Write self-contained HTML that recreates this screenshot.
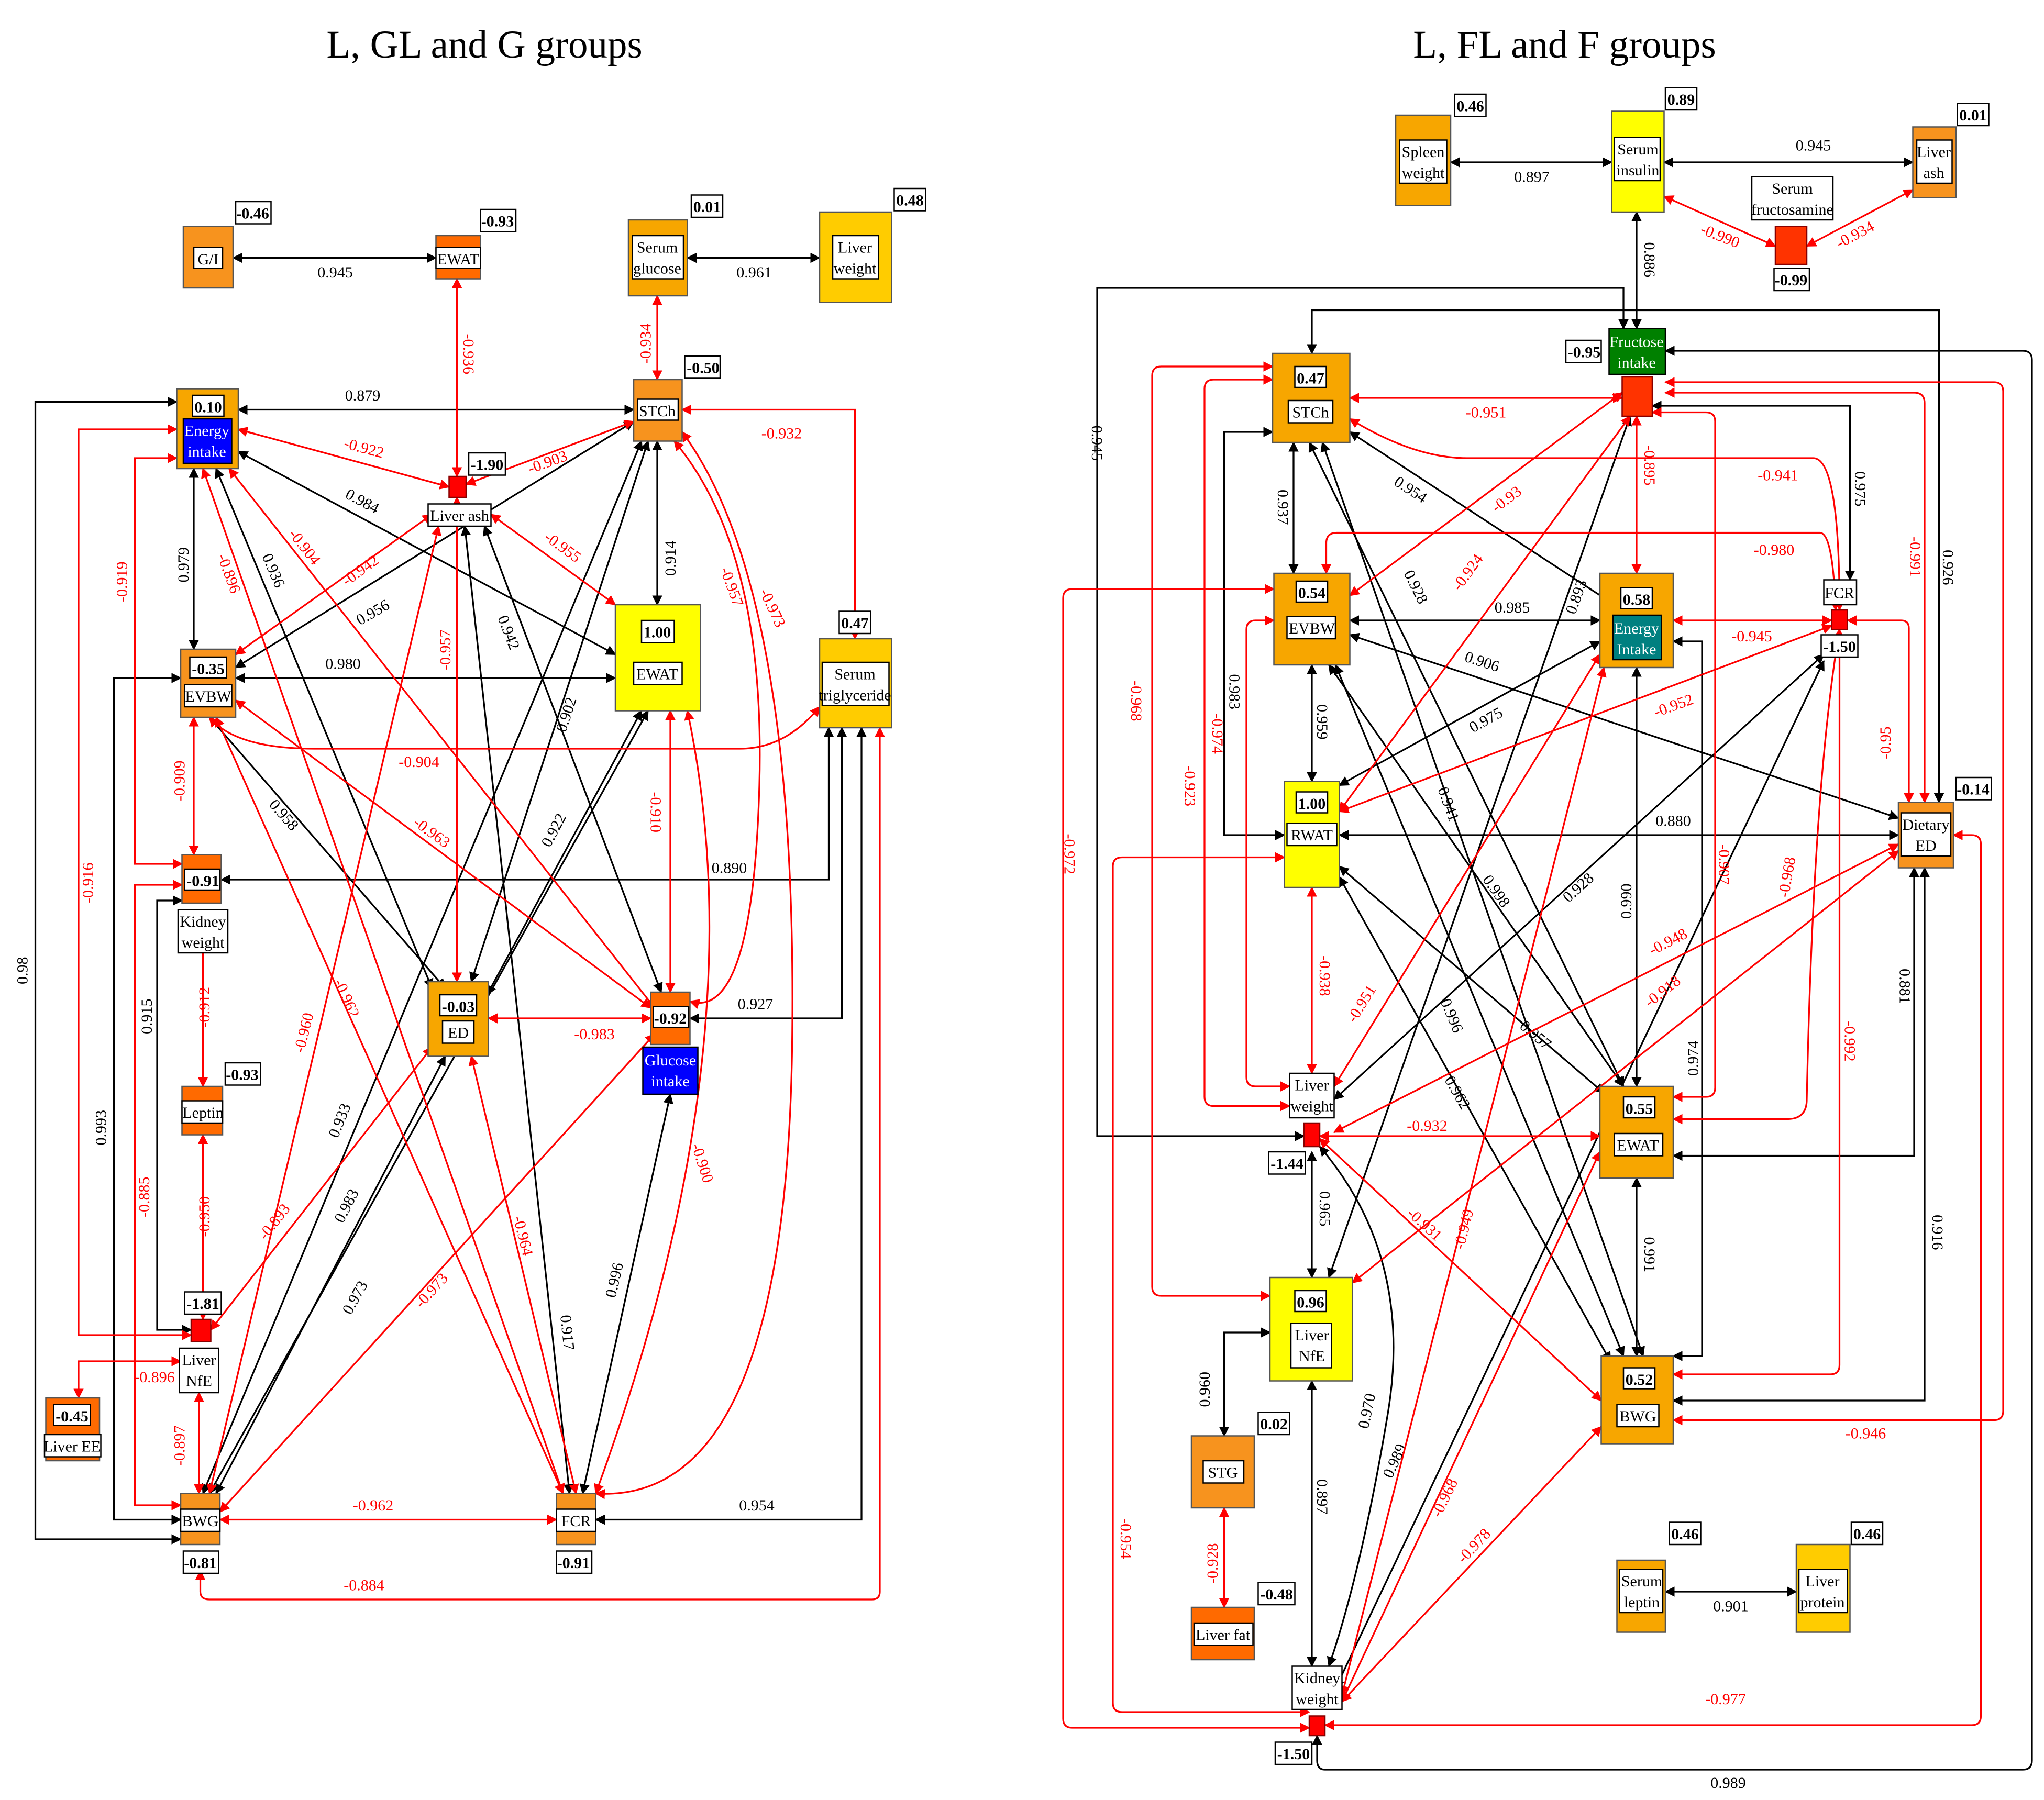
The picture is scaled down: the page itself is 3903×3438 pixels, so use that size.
<!DOCTYPE html>
<html><head><meta charset="utf-8"><style>
html,body{margin:0;padding:0;background:#fff}
svg{display:block}
text{font-family:"Liberation Serif",serif}
.b{stroke:#000;stroke-width:1.3;fill:none;marker-start:url(#ab);marker-end:url(#ab)}
.r{stroke:#f00;stroke-width:1.3;fill:none;marker-start:url(#ar);marker-end:url(#ar)}
.lb{font-size:12px;fill:#000}
.lr{font-size:12px;fill:#f00}
.t{font-size:12px}
.v{font-size:12px;font-weight:bold}
.box{stroke:#555;stroke-width:1}
.wb{fill:#fff;stroke:#000;stroke-width:1}
</style></head><body>
<svg width="3903" height="3438" viewBox="0 0 1561.2 1375.2" xmlns="http://www.w3.org/2000/svg">
<defs>
<marker id="ab" viewBox="0 0 10 10" refX="9" refY="5" markerWidth="6" markerHeight="6" orient="auto-start-reverse"><path d="M0,0L10,5L0,10z" fill="#000"/></marker>
<marker id="ar" viewBox="0 0 10 10" refX="9" refY="5" markerWidth="6" markerHeight="6" orient="auto-start-reverse"><path d="M0,0L10,5L0,10z" fill="#f00"/></marker>
</defs>
<text x="370" y="44" font-size="30" text-anchor="middle">L, GL and G groups</text>
<text x="1195" y="44" font-size="30" text-anchor="middle">L, FL and F groups</text>

<!-- ============ LEFT EDGES ============ -->
<g>
<path class="b" d="M178,197H333"/><text class="lb" x="256" y="212" text-anchor="middle">0.945</text>
<path class="b" d="M525,197H626"/><text class="lb" x="576" y="212" text-anchor="middle">0.961</text>
<path class="b" d="M182,313H484"/><text class="lb" x="277" y="306" text-anchor="middle">0.879</text>
<path class="b" d="M182,345L470,500"/><text class="lb" transform="translate(263,380) rotate(28)">0.984</text>
<path class="b" d="M148,358V496"/><text class="lb" transform="translate(144,445) rotate(-90)">0.979</text>
<path class="b" d="M165,358L330,755"/><text class="lb" transform="translate(200,425) rotate(67)">0.936</text>
<path class="b" d="M502,337V462"/><text class="lb" transform="translate(516,440) rotate(-90)">0.914</text>
<path class="b" d="M484,322L180,510"/><text class="lb" transform="translate(275,478) rotate(-30)">0.956</text>
<path class="b" d="M180,518H470"/><text class="lb" x="262" y="511" text-anchor="middle">0.980</text>
<path class="b" d="M160,548L340,755"/><text class="lb" transform="translate(205,615) rotate(49)">0.958</text>
<path class="b" d="M495,337L360,750"/><text class="lb" transform="translate(432,560) rotate(-72)">0.902</text>
<path class="b" d="M490,543L372,760"/><text class="lb" transform="translate(420,648) rotate(-62)">0.922</text>
<path class="b" d="M370,402L505,758"/><text class="lb" transform="translate(380,472) rotate(69)">0.942</text>
<path class="b" d="M355,402L435,1141"/><text class="lb" transform="translate(428,1005) rotate(84)">0.917</text>
<path class="b" d="M633,556V672H169"/><text class="lb" x="557" y="667" text-anchor="middle">0.890</text>
<path class="b" d="M643,556V778H527"/><text class="lb" x="577" y="771" text-anchor="middle">0.927</text>
<path class="b" d="M658,556V1161H455"/><text class="lb" x="578" y="1154" text-anchor="middle">0.954</text>
<path class="b" d="M139,688H120V1016H146"/><text class="lb" transform="translate(116,790) rotate(-90)">0.915</text>
<path class="b" d="M138,518H87V1161H138"/><text class="lb" transform="translate(81,875) rotate(-90)">0.993</text>
<path class="b" d="M135,307H27V1176H138"/><text class="lb" transform="translate(21,752) rotate(-90)">0.98</text>
<path class="b" d="M490,337L155,1141"/><text class="lb" transform="translate(258,870) rotate(-68)">0.933</text>
<path class="b" d="M495,543L160,1141"/><text class="lb" transform="translate(268,1005) rotate(-61)">0.973</text>
<path class="b" d="M340,807L165,1141"/><text class="lb" transform="translate(262,935) rotate(-63)">0.983</text>
<path class="b" d="M512,836L445,1141"/><text class="lb" transform="translate(470,992) rotate(-77)">0.996</text>

<path class="r" d="M349,213V364"/><text class="lr" transform="translate(354,255) rotate(90)">-0.936</text>
<path class="r" d="M502,226V290"/><text class="lr" transform="translate(497,278) rotate(-90)">-0.934</text>
<path class="r" d="M182,328L343,372"/><text class="lr" transform="translate(262,342) rotate(15)">-0.922</text>
<path class="r" d="M356,370L484,322"/><text class="lr" transform="translate(405,362) rotate(-20)">-0.903</text>
<path class="r" d="M521,313H653V488"/><text class="lr" x="597" y="335" text-anchor="middle">-0.932</text>
<path class="r" d="M375,393L470,462"/><text class="lr" transform="translate(415,412) rotate(36)">-0.955</text>
<path class="r" d="M349,380V750"/><text class="lr" transform="translate(344,512) rotate(-90)">-0.957</text>
<path class="r" d="M155,358L430,1141"/><text class="lr" transform="translate(166,425) rotate(70)">-0.896</text>
<path class="r" d="M175,358L500,770"/><text class="lr" transform="translate(220,408) rotate(52)">-0.904</text>
<path class="r" d="M330,393L180,500"/><text class="lr" transform="translate(265,448) rotate(-36)">-0.942</text>
<path class="r" d="M515,337Q585,420 580,600T527,765"/><text class="lr" transform="translate(550,435) rotate(70)">-0.957</text>
<path class="r" d="M521,330Q610,450 605,800T455,1141"/><text class="lr" transform="translate(580,452) rotate(65)">-0.973</text>
<path class="r" d="M135,350H103V660H139"/><text class="lr" transform="translate(97,460) rotate(-90)">-0.919</text>
<path class="r" d="M160,548Q180,572 240,572H565Q600,572 626,540"/><text class="lr" x="320" y="586" text-anchor="middle">-0.904</text>
<path class="r" d="M180,535L497,770"/><text class="lr" transform="translate(315,630) rotate(36)">-0.963</text>
<path class="r" d="M148,548V653"/><text class="lr" transform="translate(141,612) rotate(-90)">-0.909</text>
<path class="r" d="M165,548L430,1141"/><text class="lr" transform="translate(255,750) rotate(66)">-0.962</text>
<path class="r" d="M135,328H60V1020H146"/><text class="lr" transform="translate(71,690) rotate(-90)">-0.916</text>
<path class="r" d="M155,705V830"/><text class="lr" transform="translate(160,785) rotate(-90)">-0.912</text>
<path class="r" d="M155,867V1008"/><text class="lr" transform="translate(160,945) rotate(-90)">-0.950</text>
<path class="r" d="M139,676H103V1150H138"/><text class="lr" transform="translate(114,930) rotate(-90)">-0.885</text>
<path class="r" d="M335,402L160,1141"/><text class="lr" transform="translate(232,805) rotate(-76)">-0.960</text>
<path class="r" d="M161,1016L330,800"/><text class="lr" transform="translate(203,948) rotate(-52)">-0.893</text>
<path class="r" d="M373,778H497"/><text class="lr" x="454" y="794" text-anchor="middle">-0.983</text>
<path class="r" d="M360,807L440,1141"/><text class="lr" transform="translate(392,930) rotate(76)">-0.964</text>
<path class="r" d="M512,543V758"/><text class="lr" transform="translate(497,605) rotate(90)">-0.910</text>
<path class="r" d="M525,543Q580,800 455,1141"/><text class="lr" transform="translate(528,875) rotate(72)">-0.900</text>
<path class="r" d="M500,790L168,1155"/><text class="lr" transform="translate(322,1000) rotate(-48)">-0.973</text>
<path class="r" d="M138,1040H60V1068"/><text class="lr" x="118" y="1056" text-anchor="middle">-0.896</text>
<path class="r" d="M152,1064V1141"/><text class="lr" transform="translate(141,1120) rotate(-90)">-0.897</text>
<path class="r" d="M168,1161H425"/><text class="lr" x="285" y="1154" text-anchor="middle">-0.962</text>
<path class="r" d="M153,1200V1216Q153,1222 160,1222H666Q672,1222 672,1216V556"/><text class="lr" x="278" y="1215" text-anchor="middle">-0.884</text>
</g>

<!-- ============ LEFT NODES ============ -->
<g>
<rect class="box" x="140" y="173" width="38" height="47" fill="#f7931e"/><rect class="wb" x="148" y="189" width="22" height="16"/><text class="t" x="159" y="202" text-anchor="middle">G/I</text>
<rect class="wb" x="180" y="154" width="27" height="17"/><text class="v" x="193" y="167" text-anchor="middle">-0.46</text>
<rect class="box" x="333" y="180" width="34" height="33" fill="#ff6a00"/><rect class="wb" x="333" y="189" width="34" height="16"/><text class="t" x="350" y="202" text-anchor="middle">EWAT</text>
<rect class="wb" x="367" y="160" width="27" height="17"/><text class="v" x="380" y="173" text-anchor="middle">-0.93</text>
<rect class="box" x="480" y="168" width="45" height="58" fill="#f7a600"/><rect class="wb" x="483" y="180" width="39" height="33"/><text class="t" x="502" y="193" text-anchor="middle">Serum</text><text class="t" x="502" y="209" text-anchor="middle">glucose</text>
<rect class="wb" x="528" y="149" width="24" height="17"/><text class="v" x="540" y="162" text-anchor="middle">0.01</text>
<rect class="box" x="626" y="162" width="55" height="69" fill="#ffcc00"/><rect class="wb" x="636" y="180" width="35" height="33"/><text class="t" x="653" y="193" text-anchor="middle">Liver</text><text class="t" x="653" y="209" text-anchor="middle">weight</text>
<rect class="wb" x="683" y="144" width="24" height="17"/><text class="v" x="695" y="157" text-anchor="middle">0.48</text>

<rect class="box" x="135" y="297" width="47" height="61" fill="#f7a600"/><rect class="wb" x="147" y="302" width="24" height="16"/><text class="v" x="159" y="315" text-anchor="middle">0.10</text><rect x="140" y="320" width="37" height="34" fill="#0000ff" stroke="#000"/><text class="t" x="158" y="333" text-anchor="middle" fill="#fff">Energy</text><text class="t" x="158" y="349" text-anchor="middle" fill="#fff">intake</text>
<rect class="box" x="484" y="290" width="37" height="47" fill="#f7931e"/><rect class="wb" x="487" y="305" width="31" height="16"/><text class="t" x="502" y="318" text-anchor="middle">STCh</text>
<rect class="wb" x="523" y="272" width="27" height="17"/><text class="v" x="537" y="285" text-anchor="middle">-0.50</text>
<rect x="343" y="364" width="13" height="16" fill="#f00" stroke="#800"/><rect class="wb" x="358" y="346" width="28" height="17"/><text class="v" x="372" y="359" text-anchor="middle">-1.90</text>
<rect class="wb" x="327" y="385" width="48" height="17"/><text class="t" x="351" y="398" text-anchor="middle">Liver ash</text>
<rect class="box" x="470" y="462" width="65" height="81" fill="#ffff00"/><rect class="wb" x="490" y="474" width="25" height="17"/><text class="v" x="502" y="487" text-anchor="middle">1.00</text><rect class="wb" x="484" y="506" width="37" height="17"/><text class="t" x="502" y="519" text-anchor="middle">EWAT</text>
<rect class="box" x="626" y="488" width="55" height="68" fill="#ffcc00"/><rect class="wb" x="628" y="506" width="51" height="33"/><text class="t" x="653" y="519" text-anchor="middle">Serum</text><text class="t" x="653" y="535" text-anchor="middle">triglyceride</text>
<rect class="wb" x="641" y="467" width="24" height="17"/><text class="v" x="653" y="480" text-anchor="middle">0.47</text>
<rect class="box" x="138" y="496" width="42" height="52" fill="#f7931e"/><rect class="wb" x="145" y="502" width="28" height="16"/><text class="v" x="159" y="515" text-anchor="middle">-0.35</text><rect class="wb" x="141" y="523" width="36" height="17"/><text class="t" x="159" y="536" text-anchor="middle">EVBW</text>
<rect class="box" x="139" y="653" width="30" height="37" fill="#ff6a00"/><rect class="wb" x="141" y="664" width="27" height="16"/><text class="v" x="155" y="677" text-anchor="middle">-0.91</text>
<rect class="wb" x="136" y="695" width="38" height="33"/><text class="t" x="155" y="708" text-anchor="middle">Kidney</text><text class="t" x="155" y="724" text-anchor="middle">weight</text>
<rect class="box" x="327" y="750" width="46" height="57" fill="#f7a600"/><rect class="wb" x="336" y="760" width="28" height="16"/><text class="v" x="350" y="773" text-anchor="middle">-0.03</text><rect class="wb" x="338" y="780" width="24" height="17"/><text class="t" x="350" y="793" text-anchor="middle">ED</text>
<rect class="box" x="497" y="758" width="30" height="40" fill="#ff6a00"/><rect class="wb" x="499" y="769" width="27" height="16"/><text class="v" x="512" y="782" text-anchor="middle">-0.92</text>
<rect x="491" y="800" width="42" height="36" fill="#0000ff" stroke="#000"/><text class="t" x="512" y="814" text-anchor="middle" fill="#fff">Glucose</text><text class="t" x="512" y="830" text-anchor="middle" fill="#fff">intake</text>
<rect class="box" x="139" y="830" width="31" height="37" fill="#ff6a00"/><rect class="wb" x="139" y="841" width="31" height="17"/><text class="t" x="155" y="854" text-anchor="middle">Leptin</text>
<rect class="wb" x="172" y="812" width="27" height="17"/><text class="v" x="185" y="825" text-anchor="middle">-0.93</text>
<rect class="wb" x="141" y="987" width="28" height="17"/><text class="v" x="155" y="1000" text-anchor="middle">-1.81</text>
<rect x="146" y="1008" width="15" height="17" fill="#f00" stroke="#800"/>
<rect class="wb" x="137" y="1030" width="30" height="34"/><text class="t" x="152" y="1043" text-anchor="middle">Liver</text><text class="t" x="152" y="1059" text-anchor="middle">NfE</text>
<rect class="box" x="35" y="1068" width="41" height="48" fill="#ff6a00"/><rect class="wb" x="41" y="1073" width="28" height="16"/><text class="v" x="55" y="1086" text-anchor="middle">-0.45</text><rect class="wb" x="34" y="1096" width="43" height="17"/><text class="t" x="55" y="1109" text-anchor="middle">Liver EE</text>
<rect class="box" x="138" y="1141" width="30" height="39" fill="#f7931e"/><rect class="wb" x="138" y="1153" width="30" height="17"/><text class="t" x="153" y="1166" text-anchor="middle">BWG</text>
<rect class="wb" x="140" y="1185" width="27" height="17"/><text class="v" x="153" y="1198" text-anchor="middle">-0.81</text>
<rect class="box" x="425" y="1141" width="30" height="39" fill="#f7931e"/><rect class="wb" x="425" y="1153" width="30" height="17"/><text class="t" x="440" y="1166" text-anchor="middle">FCR</text>
<rect class="wb" x="425" y="1185" width="27" height="17"/><text class="v" x="438" y="1198" text-anchor="middle">-0.91</text>
</g>

<!-- ============ RIGHT EDGES ============ -->
<g>
<path class="b" d="M1108,124H1231"/><text class="lb" x="1170" y="139" text-anchor="middle">0.897</text>
<path class="b" d="M1271,124H1461"/><text class="lb" x="1385" y="115" text-anchor="middle">0.945</text>
<path class="b" d="M1250,162V251"/><text class="lb" transform="translate(1256,185) rotate(90)">0.886</text>
<path class="b" d="M1002,270V237H1481V613"/><text class="lb" transform="translate(1484,420) rotate(90)">0.926</text>
<path class="b" d="M1240,251V220H838V868H996"/><text class="lb" transform="translate(834,325) rotate(90)">0.945</text>
<path class="b" d="M1262,310H1413V443"/><text class="lb" transform="translate(1417,360) rotate(90)">0.975</text>
<path class="b" d="M1272,268H1545Q1552,268 1552,275V1345Q1552,1352 1545,1352H1012Q1006,1352 1006,1345V1326"/><text class="lb" x="1320" y="1366" text-anchor="middle">0.989</text>
<path class="b" d="M988,338V438"/><text class="lb" transform="translate(976,374) rotate(90)">0.937</text>
<path class="b" d="M1031,330L1230,460"/><text class="lb" transform="translate(1064,370) rotate(33)">0.954</text>
<path class="b" d="M1000,338L1240,830"/><text class="lb" transform="translate(1072,438) rotate(64)">0.928</text>
<path class="b" d="M1010,338L1255,1036"/><text class="lb" transform="translate(1098,603) rotate(70)">0.941</text>
<path class="b" d="M972,330H935V638H981"/><text class="lb" transform="translate(939,515) rotate(90)">0.983</text>
<path class="b" d="M1031,474H1222"/><text class="lb" x="1155" y="468" text-anchor="middle">0.985</text>
<path class="b" d="M1002,508V597"/><text class="lb" transform="translate(1006,538) rotate(90)">0.959</text>
<path class="b" d="M1031,485L1450,625"/><text class="lb" transform="translate(1118,505) rotate(18)">0.906</text>
<path class="b" d="M1015,508L1240,830"/><text class="lb" transform="translate(1132,672) rotate(55)">0.998</text>
<path class="b" d="M1020,508L1240,1036"/><text class="lb" transform="translate(1100,765) rotate(67)">0.996</text>
<path class="b" d="M1222,490L1023,600"/><text class="lb" transform="translate(1125,560) rotate(-29)">0.975</text>
<path class="b" d="M1250,510V830"/><text class="lb" transform="translate(1246,702) rotate(-90)">0.990</text>
<path class="b" d="M1278,490H1300V1036H1278"/><text class="lb" transform="translate(1297,822) rotate(-90)">0.974</text>
<path class="b" d="M1015,976L1245,318"/><text class="lb" transform="translate(1203,470) rotate(-70)">0.893</text>
<path class="b" d="M1023,638H1450"/><text class="lb" x="1278" y="631" text-anchor="middle">0.880</text>
<path class="b" d="M1023,662L1225,835"/><text class="lb" transform="translate(1160,785) rotate(40)">0.957</text>
<path class="b" d="M1023,670L1230,1040"/><text class="lb" transform="translate(1103,825) rotate(60)">0.962</text>
<path class="b" d="M1393,500L1019,840"/><text class="lb" transform="translate(1198,690) rotate(-42)">0.928</text>
<path class="b" d="M1393,505L1020,1290"/><text class="lb" transform="translate(1063,1130) rotate(-65)">0.989</text>
<path class="b" d="M1002,880V976"/><text class="lb" transform="translate(1008,910) rotate(90)">0.965</text>
<path class="b" d="M1008,876Q1080,960 1060,1080T1015,1273"/><text class="lb" transform="translate(1045,1092) rotate(-78)">0.970</text>
<path class="b" d="M1002,1055V1273"/><text class="lb" transform="translate(1006,1130) rotate(90)">0.897</text>
<path class="b" d="M970,1018H935V1097"/><text class="lb" transform="translate(924,1075) rotate(-90)">0.960</text>
<path class="b" d="M1278,883H1462V663"/><text class="lb" transform="translate(1451,740) rotate(90)">0.881</text>
<path class="b" d="M1250,900V1036"/><text class="lb" transform="translate(1256,945) rotate(90)">0.991</text>
<path class="b" d="M1278,1070H1470V663"/><text class="lb" transform="translate(1476,928) rotate(90)">0.916</text>
<path class="b" d="M1272,1216H1372"/><text class="lb" x="1322" y="1231" text-anchor="middle">0.901</text>

<path class="r" d="M1271,150L1356,188"/><text class="lr" transform="translate(1298,178) rotate(22)">-0.990</text>
<path class="r" d="M1461,145L1380,188"/><text class="lr" transform="translate(1405,190) rotate(-28)">-0.934</text>
<path class="r" d="M1031,304H1239"/><text class="lr" x="1135" y="319" text-anchor="middle">-0.951</text>
<path class="r" d="M1031,320Q1080,350 1120,350H1385Q1405,350 1405,466"/><text class="lr" x="1358" y="367" text-anchor="middle">-0.941</text>
<path class="r" d="M1031,455L1239,300"/><text class="lr" transform="translate(1143,392) rotate(-37)">-0.93</text>
<path class="r" d="M1023,620L1245,318"/><text class="lr" transform="translate(1115,452) rotate(-54)">-0.924</text>
<path class="r" d="M1250,318V438"/><text class="lr" transform="translate(1256,340) rotate(90)">-0.895</text>
<path class="r" d="M1013,438V415Q1013,407 1021,407H1390Q1400,407 1402,466"/><text class="lr" x="1355" y="424" text-anchor="middle">-0.980</text>
<path class="r" d="M1272,300H1462Q1470,300 1470,308V613"/><text class="lr" transform="translate(1459,410) rotate(90)">-0.991</text>
<path class="r" d="M1272,292H1523Q1530,292 1530,299V1078Q1530,1085 1523,1085H1278"/><text class="lr" x="1425" y="1099" text-anchor="middle">-0.946</text>
<path class="r" d="M1262,315H1303Q1310,315 1310,322V831Q1310,838 1303,838H1278"/><text class="lr" transform="translate(1313,645) rotate(90)">-0.907</text>
<path class="r" d="M1278,474H1399"/><text class="lr" x="1338" y="490" text-anchor="middle">-0.945</text>
<path class="r" d="M1411,474H1452Q1458,474 1458,480V613"/><text class="lr" transform="translate(1444,580) rotate(-90)">-0.95</text>
<path class="r" d="M1399,478L1023,620"/><text class="lr" transform="translate(1265,548) rotate(-20)">-0.952</text>
<path class="r" d="M1405,481Q1385,600 1380,840Q1380,855 1365,855H1278"/><text class="lr" transform="translate(1366,686) rotate(-80)">-0.968</text>
<path class="r" d="M1405,481V1043Q1405,1050 1398,1050H1278"/><text class="lr" transform="translate(1409,780) rotate(90)">-0.992</text>
<path class="r" d="M972,290H927Q920,290 920,297V838Q920,845 927,845H985"/><text class="lr" transform="translate(905,585) rotate(90)">-0.923</text>
<path class="r" d="M973,474H959Q952,474 952,481V823Q952,830 959,830H985"/><text class="lr" transform="translate(926,545) rotate(90)">-0.974</text>
<path class="r" d="M972,280H887Q880,280 880,287V983Q880,990 887,990H970"/><text class="lr" transform="translate(864,520) rotate(90)">-0.968</text>
<path class="r" d="M1000,1320H819Q812,1320 812,1313V457Q812,450 819,450H973"/><text class="lr" transform="translate(813,637) rotate(90)">-0.972</text>
<path class="r" d="M1000,1308H857Q850,1308 850,1301V662Q850,655 857,655H981"/><text class="lr" transform="translate(856,1160) rotate(90)">-0.954</text>
<path class="r" d="M1002,678V820"/><text class="lr" transform="translate(1008,730) rotate(90)">-0.938</text>
<path class="r" d="M1222,500L1019,830"/><text class="lr" transform="translate(1035,782) rotate(-58)">-0.951</text>
<path class="r" d="M1019,865L1450,645"/><text class="lr" transform="translate(1262,730) rotate(-27)">-0.948</text>
<path class="r" d="M1008,868H1222"/><text class="lr" x="1090" y="864" text-anchor="middle">-0.932</text>
<path class="r" d="M1033,980L1450,650"/><text class="lr" transform="translate(1260,770) rotate(-38)">-0.918</text>
<path class="r" d="M1008,870L1223,1070"/><text class="lr" transform="translate(1074,928) rotate(42)">-0.931</text>
<path class="r" d="M1225,510L1025,1295"/><text class="lr" transform="translate(1118,955) rotate(-76)">-0.949</text>
<path class="r" d="M1222,880L1025,1300"/><text class="lr" transform="translate(1100,1160) rotate(-64)">-0.968</text>
<path class="r" d="M1223,1090L1025,1300"/><text class="lr" transform="translate(1118,1195) rotate(-47)">-0.978</text>
<path class="r" d="M935,1152V1228"/><text class="lr" transform="translate(930,1210) rotate(-90)">-0.928</text>
<path class="r" d="M1492,638H1506Q1513,638 1513,645V1311Q1513,1318 1506,1318H1012"/><text class="lr" x="1318" y="1302" text-anchor="middle">-0.977</text>
</g>

<!-- ============ RIGHT NODES ============ -->
<g>
<rect class="box" x="1066" y="88" width="42" height="69" fill="#f7a600"/><rect class="wb" x="1069" y="107" width="36" height="33"/><text class="t" x="1087" y="120" text-anchor="middle">Spleen</text><text class="t" x="1087" y="136" text-anchor="middle">weight</text>
<rect class="wb" x="1111" y="72" width="24" height="17"/><text class="v" x="1123" y="85" text-anchor="middle">0.46</text>
<rect class="box" x="1231" y="85" width="40" height="77" fill="#ffff00"/><rect class="wb" x="1233" y="105" width="35" height="33"/><text class="t" x="1251" y="118" text-anchor="middle">Serum</text><text class="t" x="1251" y="134" text-anchor="middle">insulin</text>
<rect class="wb" x="1272" y="67" width="24" height="17"/><text class="v" x="1284" y="80" text-anchor="middle">0.89</text>
<rect class="box" x="1461" y="97" width="33" height="54" fill="#f7931e"/><rect class="wb" x="1464" y="107" width="27" height="33"/><text class="t" x="1477" y="120" text-anchor="middle">Liver</text><text class="t" x="1477" y="136" text-anchor="middle">ash</text>
<rect class="wb" x="1495" y="79" width="24" height="17"/><text class="v" x="1507" y="92" text-anchor="middle">0.01</text>
<rect class="wb" x="1338" y="135" width="62" height="33"/><text class="t" x="1369" y="148" text-anchor="middle">Serum</text><text class="t" x="1369" y="164" text-anchor="middle">fructosamine</text>
<rect x="1356" y="173" width="24" height="29" fill="#ff3300" stroke="#800"/><rect class="wb" x="1355" y="205" width="27" height="17"/><text class="v" x="1368" y="218" text-anchor="middle">-0.99</text>
<rect x="1229" y="251" width="43" height="35" fill="#008000" stroke="#000"/><text class="t" x="1250" y="265" text-anchor="middle" fill="#fff">Fructose</text><text class="t" x="1250" y="281" text-anchor="middle" fill="#fff">intake</text>
<rect x="1239" y="288" width="23" height="30" fill="#ff3300" stroke="#800"/><rect class="wb" x="1196" y="260" width="27" height="17"/><text class="v" x="1210" y="273" text-anchor="middle">-0.95</text>
<rect class="box" x="972" y="270" width="59" height="68" fill="#f7a600"/><rect class="wb" x="989" y="280" width="24" height="16"/><text class="v" x="1001" y="293" text-anchor="middle">0.47</text><rect class="wb" x="984" y="306" width="34" height="17"/><text class="t" x="1001" y="319" text-anchor="middle">STCh</text>
<rect class="box" x="973" y="438" width="58" height="70" fill="#f7a600"/><rect class="wb" x="990" y="444" width="24" height="16"/><text class="v" x="1002" y="457" text-anchor="middle">0.54</text><rect class="wb" x="983" y="471" width="37" height="17"/><text class="t" x="1002" y="484" text-anchor="middle">EVBW</text>
<rect class="box" x="1222" y="438" width="56" height="72" fill="#f7a600"/><rect class="wb" x="1238" y="449" width="24" height="16"/><text class="v" x="1250" y="462" text-anchor="middle">0.58</text><rect x="1232" y="470" width="37" height="34" fill="#008080" stroke="#000"/><text class="t" x="1250" y="484" text-anchor="middle" fill="#fff">Energy</text><text class="t" x="1250" y="500" text-anchor="middle" fill="#fff">Intake</text>
<rect class="wb" x="1393" y="443" width="25" height="19"/><text class="t" x="1405" y="457" text-anchor="middle">FCR</text>
<rect x="1399" y="466" width="12" height="15" fill="#f00" stroke="#800"/><rect class="wb" x="1391" y="485" width="28" height="17"/><text class="v" x="1405" y="498" text-anchor="middle">-1.50</text>
<rect class="box" x="981" y="597" width="42" height="81" fill="#ffff00"/><rect class="wb" x="990" y="605" width="24" height="16"/><text class="v" x="1002" y="618" text-anchor="middle">1.00</text><rect class="wb" x="983" y="629" width="38" height="17"/><text class="t" x="1002" y="642" text-anchor="middle">RWAT</text>
<rect class="box" x="1450" y="613" width="42" height="50" fill="#f7931e"/><rect class="wb" x="1452" y="621" width="38" height="33"/><text class="t" x="1471" y="634" text-anchor="middle">Dietary</text><text class="t" x="1471" y="650" text-anchor="middle">ED</text>
<rect class="wb" x="1494" y="594" width="27" height="17"/><text class="v" x="1507" y="607" text-anchor="middle">-0.14</text>
<rect class="wb" x="985" y="820" width="34" height="34"/><text class="t" x="1002" y="833" text-anchor="middle">Liver</text><text class="t" x="1002" y="849" text-anchor="middle">weight</text>
<rect x="996" y="858" width="12" height="18" fill="#f00" stroke="#800"/><rect class="wb" x="969" y="880" width="28" height="17"/><text class="v" x="983" y="893" text-anchor="middle">-1.44</text>
<rect class="box" x="1222" y="830" width="56" height="70" fill="#f7a600"/><rect class="wb" x="1240" y="838" width="24" height="16"/><text class="v" x="1252" y="851" text-anchor="middle">0.55</text><rect class="wb" x="1233" y="866" width="37" height="17"/><text class="t" x="1251" y="879" text-anchor="middle">EWAT</text>
<rect class="box" x="970" y="976" width="63" height="79" fill="#ffff00"/><rect class="wb" x="989" y="986" width="24" height="16"/><text class="v" x="1001" y="999" text-anchor="middle">0.96</text><rect class="wb" x="986" y="1011" width="31" height="34"/><text class="t" x="1002" y="1024" text-anchor="middle">Liver</text><text class="t" x="1002" y="1040" text-anchor="middle">NfE</text>
<rect class="box" x="1223" y="1036" width="55" height="67" fill="#f7a600"/><rect class="wb" x="1240" y="1045" width="24" height="16"/><text class="v" x="1252" y="1058" text-anchor="middle">0.52</text><rect class="wb" x="1235" y="1073" width="32" height="17"/><text class="t" x="1251" y="1086" text-anchor="middle">BWG</text>
<rect class="box" x="910" y="1097" width="48" height="55" fill="#f7931e"/><rect class="wb" x="919" y="1116" width="31" height="17"/><text class="t" x="934" y="1129" text-anchor="middle">STG</text>
<rect class="wb" x="961" y="1079" width="24" height="17"/><text class="v" x="973" y="1092" text-anchor="middle">0.02</text>
<rect class="box" x="910" y="1228" width="48" height="40" fill="#ff6a00"/><rect class="wb" x="912" y="1240" width="45" height="17"/><text class="t" x="934" y="1253" text-anchor="middle">Liver fat</text>
<rect class="wb" x="961" y="1209" width="28" height="17"/><text class="v" x="975" y="1222" text-anchor="middle">-0.48</text>
<rect class="box" x="1235" y="1192" width="37" height="55" fill="#f7a600"/><rect class="wb" x="1237" y="1199" width="33" height="33"/><text class="t" x="1254" y="1212" text-anchor="middle">Serum</text><text class="t" x="1254" y="1228" text-anchor="middle">leptin</text>
<rect class="wb" x="1275" y="1163" width="24" height="17"/><text class="v" x="1287" y="1176" text-anchor="middle">0.46</text>
<rect class="box" x="1372" y="1180" width="41" height="67" fill="#ffcc00"/><rect class="wb" x="1374" y="1199" width="37" height="33"/><text class="t" x="1392" y="1212" text-anchor="middle">Liver</text><text class="t" x="1392" y="1228" text-anchor="middle">protein</text>
<rect class="wb" x="1414" y="1163" width="24" height="17"/><text class="v" x="1426" y="1176" text-anchor="middle">0.46</text>
<rect class="wb" x="987" y="1273" width="38" height="33"/><text class="t" x="1006" y="1286" text-anchor="middle">Kidney</text><text class="t" x="1006" y="1302" text-anchor="middle">weight</text>
<rect x="1000" y="1311" width="12" height="15" fill="#f00" stroke="#800"/><rect class="wb" x="974" y="1331" width="28" height="17"/><text class="v" x="988" y="1344" text-anchor="middle">-1.50</text>
</g>
</svg>
</body></html>
